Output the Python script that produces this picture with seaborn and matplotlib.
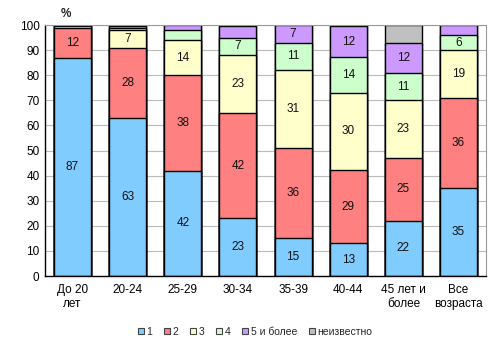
import numpy as np
import pandas as pd
import matplotlib
matplotlib.use("Agg")
import matplotlib.pyplot as plt
import seaborn as sns
from matplotlib.patches import Patch

# ----------------------- DATA ----------------------
categories = ["До 20\nлет", "20-24", "25-29", "30-34", "35-39", "40-44", "45 лет и\nболее", "Все\nвозраста"]
series_names = ["1", "2", "3", "4", "5 и более", "неизвестно"]

s1 = [87, 63, 42, 23, 15, 13, 22, 35]
s2 = [12, 28, 38, 42, 36, 29.4, 25, 36]
s3 = [0.7, 7, 14, 23, 31, 30.4, 23, 19]
s4 = [0.3, 1, 4, 7, 11, 14.4, 11, 6]
s5 = [0, 0.5, 2, 4.5, 7, 12.3, 12, 4]
s6 = [0, 0.5, 0, 0.5, 0, 0.5, 7, 0]

colors = ["#80CCFF", "#FF8080", "#FFFFCC", "#CCFFCC", "#CC99FF", "#C0C0C0"]
values = [s1, s2, s3, s4, s5, s6]

# ----------------------- STYLE ----------------------
sns.set_theme(style="white")
plt.rcParams["font.family"] = ["Liberation Sans", "DejaVu Sans"]

fig = plt.figure(figsize=(5, 3.53), dpi=100)
ax = fig.add_axes([0.09, 0.218, 0.882, 0.711])

data = np.array(values, dtype=float)
tops = np.cumsum(data, axis=0)

# draw from top series down so lower series overlay
for i in range(len(series_names) - 1, -1, -1):
    sns.barplot(x=categories, y=tops[i], color=colors[i], edgecolor="black",
                linewidth=1.0, width=0.67, saturation=1, ax=ax, zorder=2)

# labels (only segments >= 5, never the "unknown" series)
for i in range(len(series_names) - 1):
    for j in range(len(categories)):
        v = data[i, j]
        if v >= 5:
            ax.text(j, tops[i, j] - v / 2, f"{v:.0f}", ha="center", va="center",
                    fontsize=8.5, color="#111111", zorder=3)

ax.set_ylim(0, 100)
ax.set_xlim(-0.5, len(categories) - 0.5)
ax.set_yticks(range(0, 101, 10))
ax.yaxis.grid(True, color="#BBBBBB", linewidth=0.8, zorder=0)
ax.set_axisbelow(True)
ax.tick_params(axis="both", labelsize=8.5, colors="black", length=0, pad=4)
ax.tick_params(axis="x", pad=6)
ax.set_xticks(np.arange(-0.5, len(categories), 1), minor=True)
ax.tick_params(axis="x", which="minor", length=3, color="black", width=0.8, direction="out")
ax.set_xlabel("")
ax.set_ylabel("")

for side in ["top", "right"]:
    ax.spines[side].set_color("#999999")
    ax.spines[side].set_linewidth(0.8)
for side in ["left", "bottom"]:
    ax.spines[side].set_color("black")
    ax.spines[side].set_linewidth(1.0)

fig.text(0.132, 0.96, "%", fontsize=8.5, fontweight="bold", ha="center", va="center")

handles = [Patch(facecolor=c, edgecolor="#444444", linewidth=0.8) for c in colors]
fig.legend(handles, series_names, loc="center", bbox_to_anchor=(0.51, 0.06), ncol=6,
           frameon=False, fontsize=7.5, handlelength=0.6, handleheight=0.6,
           handletextpad=0.25, columnspacing=1.1)

fig.savefig("out.png", dpi=100)
